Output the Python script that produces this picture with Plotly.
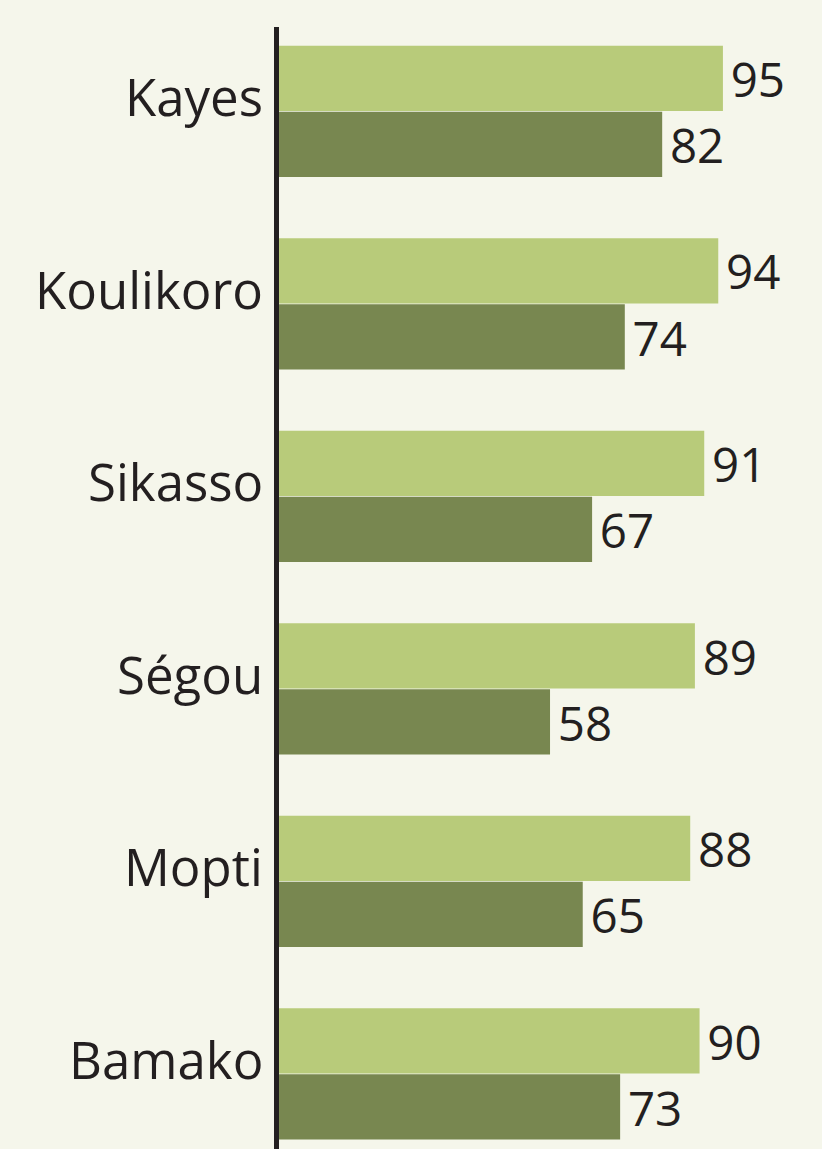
import plotly.graph_objects as go

regions = ["Kayes", "Koulikoro", "Sikasso", "Ségou", "Mopti", "Bamako"]
light_values = [95, 94, 91, 89, 88, 90]
dark_values = [82, 74, 67, 58, 65, 73]

BG = "#F5F6EB"
LIGHT = "#B8CB7A"
DARK = "#788750"
INK = "#231F20"
FONT = "Open Sans"
FS = 51

fig = go.Figure()
for vals, col in ((light_values, LIGHT), (dark_values, DARK)):
    fig.add_trace(go.Bar(
        y=regions, x=vals, orientation="h",
        marker=dict(color=col, line=dict(width=0)),
        text=["\u200a" + str(v) for v in vals], textposition="outside",
        textfont=dict(family=FONT, size=FS, color=INK), cliponaxis=False,
        hoverinfo="skip",
    ))

# category labels as annotations (slightly raised, like the original)
for r in regions:
    fig.add_annotation(
        x=0, xref="paper", y=r, yref="y",
        text=r, showarrow=False, xanchor="right", yanchor="middle",
        xshift=-14, yshift=15,
        font=dict(family=FONT, size=FS, color=INK),
    )

fig.update_layout(
    width=822, height=1149,
    margin=dict(l=279, r=0, t=27, b=0, pad=0),
    paper_bgcolor=BG, plot_bgcolor=BG,
    barmode="group", bargap=0.314, bargroupgap=0.012,
    showlegend=False,
    font=dict(family=FONT, color=INK),
)
fig.update_xaxes(range=[0, 116.2], visible=False, showgrid=False, zeroline=False, fixedrange=True)
fig.update_yaxes(
    type="category", categoryorder="array", categoryarray=regions,
    range=[5.39, -0.438],
    showline=True, linecolor=INK, linewidth=5,
    showgrid=False, zeroline=False, ticks="",
    showticklabels=False, fixedrange=True,
)

fig.write_html(
    "out.html",
    config={"displayModeBar": False, "staticPlot": True},
    post_script="document.body.style.margin='0';document.body.style.padding='0';"
                "document.body.style.background='" + BG + "';",
)
